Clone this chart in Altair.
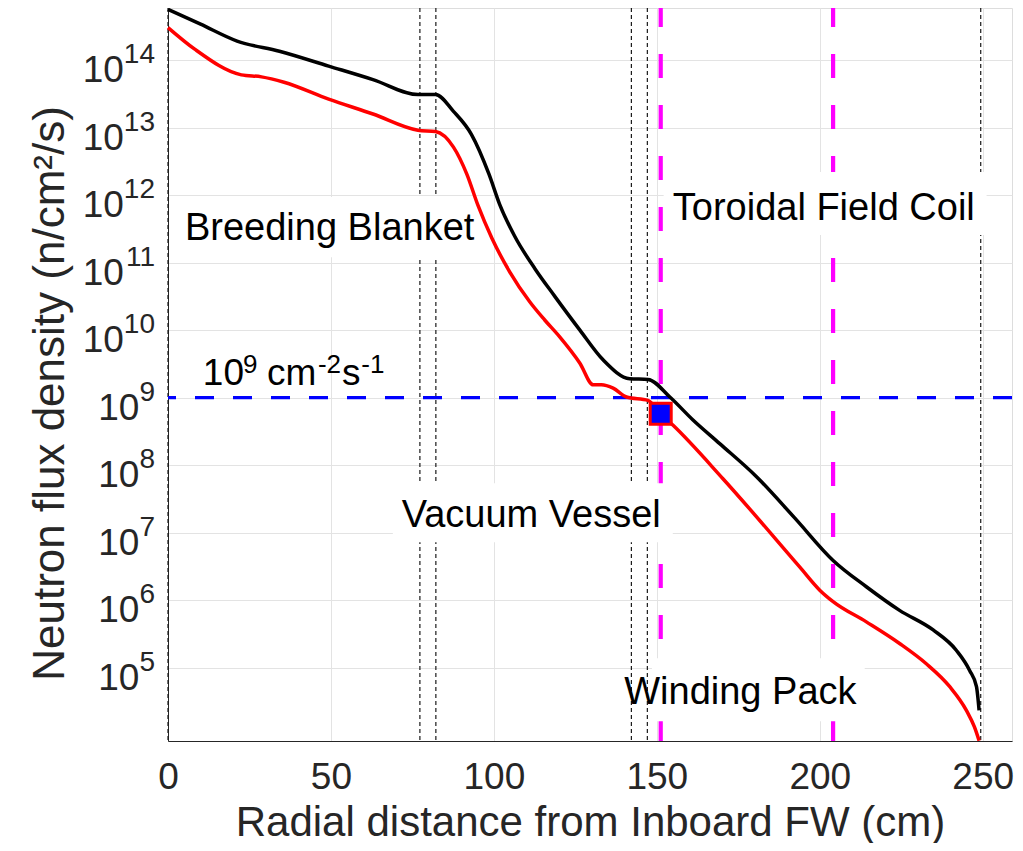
import altair as alt
import pandas as pd
import numpy as np

FONT = "Liberation Sans"

# ---- curve data (x in cm, log10 of flux) ----
black_x = [0, 10, 21.2, 34.2, 49.3, 62.9, 76.7, 82.1, 87.6, 93.1, 98.5, 101.8, 106.4, 112.6,
           118.7, 126.4, 133.5, 141.7, 147.3, 154.0, 161.1, 169.3, 180.6, 192.3, 204.1, 214.3,
           224.5, 234.8, 241.9, 246.0, 248.1, 248.9]
black_log = [14.75, 14.53, 14.28, 14.13, 13.91, 13.71, 13.49, 13.49, 13.24, 12.90, 12.31, 11.86,
             11.39, 10.91, 10.50, 10.00, 9.56, 9.28, 9.27, 9.01, 8.67, 8.32, 7.83, 7.22, 6.59,
             6.20, 5.85, 5.56, 5.26, 4.96, 4.72, 4.37]

red_x = [0, 8.2, 22.5, 28.7, 35.6, 49.3, 62.9, 76.7, 82.1, 87.6, 91.7, 95.1, 99.4, 104.9, 111.0,
         115.6, 120.2, 126.4, 130.5, 133.0, 136.6, 140.7, 147.3, 151.2, 155.0, 170.3, 193.9,
         200.0, 204.1, 214.3, 224.5, 232.7, 239.9, 245.0, 247.5, 248.9]
red_log = [14.48, 14.16, 13.78, 13.75, 13.67, 13.42, 13.20, 12.96, 12.94, 12.71, 12.31, 11.85,
           11.36, 10.86, 10.42, 10.15, 9.90, 9.51, 9.19, 9.19, 9.14, 9.01, 8.96, 8.76, 8.59,
           7.80, 6.49, 6.15, 5.98, 5.68, 5.36, 5.06, 4.72, 4.37, 4.12, 3.92]

# ---- reference lines / markers ----
boundary_x = [0, 77.3, 82.2, 142.2, 147.1, 249.4]     # black dotted
tf_x = [151.2, 204.1]                                 # magenta dashed
limit_flux = [1e9]                                    # blue dashed
marker_x = [151.2]
marker_log = [8.763]

x_ticks = [0, 50, 100, 150, 200, 250]
y_exps = [5, 6, 7, 8, 9, 10, 11, 12, 13, 14]

X_DOMAIN = [0, 259]
Y_DOMAIN = [10 ** 3.916, 10 ** 14.77]

# ---- annotations ----
label_text = ["Breeding Blanket", "Vacuum Vessel", "Toroidal Field Coil", "Winding Pack",
              "10", "9", "cm", "-2", "s", "-1"]
label_x = [5.2, 71.7, 154.9, 140.0, 10.7, 23.0, 30.4, 46.0, 53.4, 59.3]
label_log = [11.333, 7.086, 11.630, 4.459, 9.185, 9.363, 9.185, 9.363, 9.185, 9.363]
label_size = [38, 38, 38, 38, 37, 26, 37, 26, 37, 26]

box_x1 = [2.8, 69.0, 152.1, 148.5]
box_x2 = [95.7, 154.9, 251.2, 213.8]
box_log1 = [11.970, 7.733, 12.341, 5.141]
box_log2 = [11.081, 6.860, 11.407, 4.207]

# ---- scales & axes ----
xs = alt.Scale(domain=X_DOMAIN, nice=False, zero=False)
ys = alt.Scale(type="log", domain=Y_DOMAIN, nice=False)

xaxis = alt.Axis(values=x_ticks, grid=True, gridColor="#e3e3e3", gridWidth=1, ticks=False,
                 domain=True, domainColor="#262626", labelFontSize=37, labelColor="#262626",
                 labelFont=FONT, labelPadding=47, labelBaseline="alphabetic", labelFlush=False,
                 title="Radial distance from Inboard FW (cm)", titleFont=FONT, titleFontSize=42,
                 titleFontWeight="normal", titleColor="#262626", titleBaseline="alphabetic",
                 titleY=94)
yaxis = alt.Axis(values=[10.0 ** e for e in y_exps], grid=True, gridColor="#e3e3e3", gridWidth=1,
                 ticks=False, labels=False, domain=True, domainColor="#262626",
                 title="Neutron flux density (n/cm²/s)", titleFont=FONT, titleFontSize=44,
                 titleFontWeight="normal", titleColor="#262626", titleX=-105, titleY=385,
                 titleAlign="center", titleBaseline="alphabetic", titleAngle=270)


def X(f):
    return alt.X(f"{f}:Q", scale=xs, axis=xaxis)


def Y(f):
    return alt.Y(f"{f}:Q", scale=ys, axis=yaxis)


curves = pd.concat([
    pd.DataFrame({"x": black_x, "flux": np.power(10.0, black_log), "s": "black"}),
    pd.DataFrame({"x": red_x, "flux": np.power(10.0, red_log), "s": "red"}),
])

dotted = alt.Chart(pd.DataFrame({"x": boundary_x})).mark_rule(
    color="#1a1a1a", strokeWidth=1.2, strokeDash=[4, 3]
).encode(x=X("x"))

magenta = alt.Chart(pd.DataFrame({"x": tf_x, "y1": Y_DOMAIN[0], "y2": Y_DOMAIN[1]})).mark_rule(
    color="#ff00ff", strokeWidth=4.2, strokeDash=[24, 27]
).encode(x=X("x"), y=Y("y1"), y2="y2:Q")

blue = alt.Chart(pd.DataFrame({"y": limit_flux})).mark_rule(
    color="#0000ff", strokeWidth=3.3, strokeDash=[19, 19]
).encode(y=Y("y"))

boxes = alt.Chart(pd.DataFrame({
    "x1": box_x1, "x2": box_x2,
    "y1": np.power(10.0, box_log1), "y2": np.power(10.0, box_log2)
})).mark_rect(color="white").encode(x=X("x1"), x2="x2:Q", y=Y("y1"), y2="y2:Q")

labels = alt.Chart(pd.DataFrame({
    "x": label_x, "y": np.power(10.0, label_log), "t": label_text, "fs": label_size
})).mark_text(align="left", baseline="alphabetic", font=FONT, color="black").encode(
    x=X("x"), y=Y("y"), text="t:N", size=alt.Size("fs:Q", scale=None, legend=None)
)

lines = alt.Chart(curves).mark_line(strokeWidth=3.5, interpolate="monotone").encode(
    x=X("x"), y=Y("flux"),
    color=alt.Color("s:N", scale=alt.Scale(domain=["black", "red"], range=["#000000", "#ff0000"]),
                    legend=None),
    detail="s:N",
)

marker = alt.Chart(pd.DataFrame({"x": marker_x, "y": np.power(10.0, marker_log)})).mark_square(
    size=441, filled=True, color="#0000ff", stroke="#ff0000", strokeWidth=3, opacity=1
).encode(x=X("x"), y=Y("y"))

ylab = pd.DataFrame({"v": [10.0 ** e for e in y_exps], "e": [str(e) for e in y_exps]})
one_digit = ylab[ylab["e"].str.len() == 1]
two_digit = ylab[ylab["e"].str.len() == 2]


def tick_layers(df, shift):
    base = alt.Chart(df).mark_text(text="10", align="right", baseline="alphabetic", dy=22,
                                   dx=-shift, fontSize=37, font=FONT, color="#262626").encode(
        x=alt.value(-13), y=Y("v"))
    expo = alt.Chart(df).mark_text(align="right", baseline="alphabetic", dy=3, fontSize=28,
                                   font=FONT, color="#262626").encode(
        x=alt.value(-13), y=Y("v"), text="e:N")
    return [base, expo]


chart = alt.layer(
    dotted, magenta, blue, boxes, labels, lines, marker,
    *tick_layers(one_digit, 15.6), *tick_layers(two_digit, 31.2)
).properties(
    width=844, height=733,
    autosize=alt.AutoSizeParams(type="none"),
    padding={"left": 160, "top": 0, "right": 2, "bottom": 102},
).configure_view(stroke="#262626", strokeWidth=1).configure(font=FONT)

chart.save("out.html", embed_options={"renderer": "svg", "actions": False})
